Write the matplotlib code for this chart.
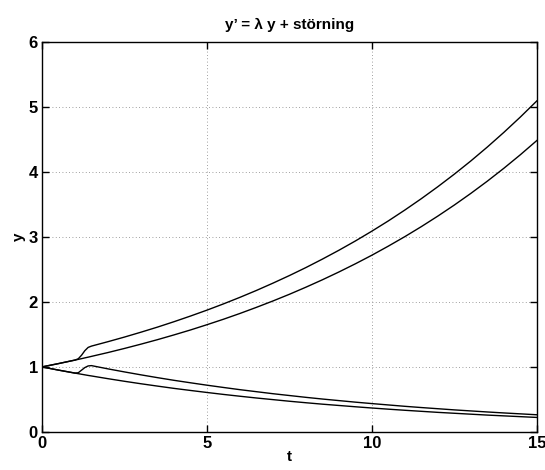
import matplotlib.pyplot as plt

plt.rcParams['font.family'] = ['Liberation Sans', 'DejaVu Sans']

# time points
t = [0, 0.5, 1.0, 1.1, 1.2, 1.3, 1.4, 1.5, 2, 2.5, 3, 3.5, 4, 4.5, 5, 5.5, 6, 6.5, 7, 7.5,
     8, 8.5, 9, 9.5, 10, 10.5, 11, 11.5, 12, 12.5, 13, 13.5, 14, 14.5, 15]

# lambda > 0, without / with disturbance
grow = [1.0, 1.051, 1.105, 1.116, 1.127, 1.139, 1.150, 1.162, 1.221, 1.284, 1.350, 1.419,
        1.492, 1.568, 1.649, 1.733, 1.822, 1.916, 2.014, 2.117, 2.226, 2.340, 2.460, 2.586,
        2.718, 2.858, 3.004, 3.158, 3.320, 3.490, 3.669, 3.857, 4.055, 4.263, 4.482]
grow_st = [1.0, 1.051, 1.105, 1.125, 1.18, 1.25, 1.30, 1.32, 1.388, 1.459, 1.534, 1.612,
           1.695, 1.782, 1.873, 1.969, 2.070, 2.176, 2.288, 2.405, 2.528, 2.658, 2.794, 2.937,
           3.088, 3.246, 3.413, 3.588, 3.772, 3.965, 4.168, 4.382, 4.607, 4.843, 5.091]

# lambda < 0, without / with disturbance
decay = [1.0, 0.951, 0.905, 0.896, 0.887, 0.878, 0.869, 0.861, 0.819, 0.779, 0.741, 0.705,
         0.670, 0.638, 0.607, 0.577, 0.549, 0.522, 0.497, 0.472, 0.449, 0.427, 0.407, 0.387,
         0.368, 0.350, 0.333, 0.317, 0.301, 0.287, 0.273, 0.259, 0.247, 0.235, 0.223]
decay_st = [1.0, 0.951, 0.905, 0.91, 0.95, 0.99, 1.015, 1.02, 0.970, 0.923, 0.878, 0.835,
            0.794, 0.756, 0.719, 0.684, 0.650, 0.619, 0.588, 0.560, 0.532, 0.506, 0.482, 0.458,
            0.436, 0.415, 0.394, 0.375, 0.357, 0.339, 0.323, 0.307, 0.292, 0.278, 0.264]

fig = plt.figure(figsize=(5.45, 4.7), dpi=100)
ax = fig.add_axes([0.077, 0.081, 0.908, 0.830])

for y in (grow, grow_st, decay, decay_st):
    ax.plot(t, y, color='black', linewidth=1.0)

ax.set_xlim(0, 15)
ax.set_ylim(0, 6)
ax.set_xticks([0, 5, 10, 15])
ax.set_yticks([0, 1, 2, 3, 4, 5, 6])
ax.grid(True, linestyle=(0, (1, 3)), color='#808080', linewidth=0.6)
ax.tick_params(direction='in', length=5, width=1, top=True, right=True,
               labelsize=12, pad=3)
for lab in ax.get_xticklabels() + ax.get_yticklabels():
    lab.set_fontweight('bold')
for s in ax.spines.values():
    s.set_linewidth(1.0)

ax.set_title("y’ = λ y + störning", fontsize=11, fontweight='bold', pad=9)
ax.set_xlabel('t', fontsize=11, fontweight='bold', labelpad=-1)
ax.set_ylabel('y', fontsize=11, fontweight='bold', labelpad=2)

fig.savefig('out.png', dpi=100)
